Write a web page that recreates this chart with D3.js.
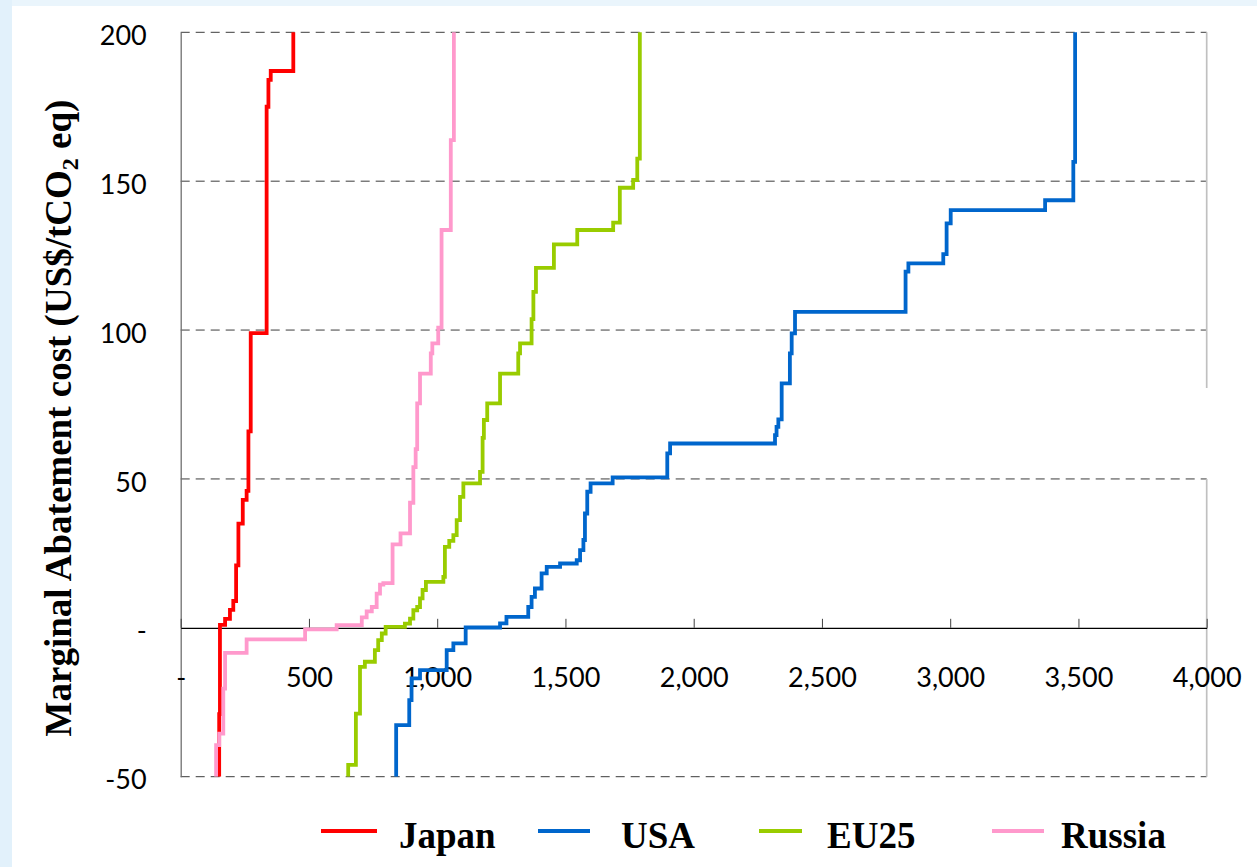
<!DOCTYPE html>
<html>
<head>
<meta charset="utf-8">
<script src="https://cdn.jsdelivr.net/npm/d3@7/dist/d3.min.js"></script>
<style>
  body { margin: 0; background: #fff; }
  .rotulo { font-family: Lato, "Liberation Sans", sans-serif; font-size: 27px; fill: #000; }
  .titulo { font-family: "Liberation Serif", "Times New Roman", serif; font-weight: bold; font-size: 37px; fill: #000; }
</style>
</head>
<body>
<svg id="grafico"></svg>
<script>
// series: [abatimento acumulado, custo marginal] -- cada ponto fecha um degrau
const paises = ['Japan', 'USA', 'EU25', 'Russia'];
const cores = ['#ff0000', '#0066cc', '#99cc00', '#ff99cc'];

const japan = [[150, -50], [153, -29], [173, 1], [192, 3], [205, 6], [216, 9], [225, 21], [242, 35],
  [257, 43], [264, 46], [273, 66], [335, 99], [342, 175], [351, 184], [439, 187], [439, 200]];

const usa = [[840, -50], [891, -32.7], [900, -24.3], [933, -17], [1037, -14.2], [1063, -7.5], [1111, -5.2],
  [1245, 0.1], [1270, 1.5], [1355, 3.7], [1368, 7], [1381, 10.4], [1407, 13.2], [1427, 18.3], [1479, 20.5],
  [1544, 21.6], [1557, 22.7], [1570, 26.1], [1576, 29.5], [1585, 38.4], [1598, 45.7], [1684, 48.5],
  [1897, 50.5], [1908, 58.6], [2317, 61.9], [2323, 64.7], [2330, 67.5], [2343, 70], [2375, 82.1],
  [2382, 92.2], [2395, 98.9], [2826, 106.1], [2837, 119.6], [2973, 122.4], [2986, 125.5], [3002, 135.8],
  [3370, 140.3], [3480, 143.6], [3487, 156.5], [3487, 200]];

const eu25 = [[653, -50], [683, -46], [699, -28.8], [718, -13.1], [757, -11.4], [770, -7.5], [784, -4.1],
  [799, -1.9], [874, 0.3], [894, 1.4], [907, 3.1], [922, 5.9], [933, 7], [943, 9.9], [956, 12.7],
  [1024, 15.4], [1030, 17.1], [1047, 27.2], [1063, 29.2], [1076, 31.1], [1089, 36.2], [1102, 44],
  [1167, 48.5], [1177, 52.4], [1182, 63.8], [1195, 69.8], [1245, 75.4], [1316, 85.4], [1323, 92.2],
  [1368, 95.5], [1375, 103.7], [1385, 112.8], [1455, 120.9], [1546, 128.8], [1686, 133.6], [1712, 136.1],
  [1764, 147.8], [1780, 150.4], [1790, 157.6], [1790, 200]];

const russia = [[138, -50], [150, -39.4], [166, -35.5], [173, -20.4], [257, -8.4], [485, -3.9], [608, -0.5],
  [706, 0.9], [725, 3.5], [745, 5.5], [764, 7], [777, 11.5], [790, 14.5], [826, 15], [857, 28],
  [894, 31.7], [907, 42], [916, 54], [922, 60], [933, 75.4], [975, 85.4], [981, 92.2], [1004, 95.5],
  [1017, 100.8], [1053, 133.6], [1065, 163.8], [1065, 200]];

const series = [japan, usa, eu25, russia];

// marcas dos eixos
const ticksX = [0, 500, 1000, 1500, 2000, 2500, 3000, 3500, 4000];
const ticksY = [-50, 0, 50, 100, 150, 200];
const grade = [-50, 50, 100, 150, 200];

const largura = 1257, altura = 867;
const svg = d3.select('#grafico').attr('width', largura).attr('height', altura);

// fundo do slide (faixas azuis claras nas bordas)
svg.append('rect').attr('width', largura).attr('height', altura).attr('fill', '#fff');
svg.append('rect').attr('width', largura).attr('height', 6).attr('fill', '#eaf5fc');
svg.append('rect').attr('width', 12).attr('height', altura).attr('fill', '#e2f1fb');

const x = d3.scaleLinear().domain([0, 4000]).range([180.7, 1206.7]);
const y = d3.scaleLinear().domain([-50, 200]).range([776.7, 32.3]);

// linhas de grade tracejadas
svg.append('g').selectAll('line').data(grade).enter().append('line')
    .attr('x1', x(0)).attr('x2', x(4000))
    .attr('y1', d => y(d)).attr('y2', d => y(d))
    .attr('stroke', '#3c3c3c').attr('stroke-width', 1).attr('stroke-dasharray', '9,6');

// borda direita (interrompida como no original)
svg.append('line').attr('x1', x(4000)).attr('x2', x(4000)).attr('y1', y(200)).attr('y2', 388)
    .attr('stroke', '#c0c0c0').attr('stroke-width', 1.7);
svg.append('line').attr('x1', x(4000)).attr('x2', x(4000)).attr('y1', 479).attr('y2', y(-50))
    .attr('stroke', '#c0c0c0').attr('stroke-width', 1.7);

// eixo Y
const eixoY = d3.axisLeft(y).tickValues(ticksY).tickSize(0).tickPadding(34)
    .tickFormat(d => d === 0 ? '-' : d);
const gY = svg.append('g').attr('transform', `translate(${x(0)},0)`).call(eixoY);
gY.select('.domain').attr('stroke', '#707070').attr('stroke-width', 1.3);
gY.selectAll('text').attr('class', 'rotulo').attr('dy', '0.45em').attr('font-family', null).attr('font-size', null);

// eixo X na linha do zero, marcas para cima
const eixoX = d3.axisBottom(x).tickValues(ticksX).tickSizeInner(-9).tickSizeOuter(0).tickPadding(40)
    .tickFormat(d => d === 0 ? '-' : d3.format(',')(d));
const gX = svg.append('g').attr('transform', `translate(0,${y(0)})`).call(eixoX);
gX.select('.domain').attr('stroke', '#000').attr('stroke-width', 1.3);
gX.selectAll('.tick line').attr('stroke', '#404040');
gX.selectAll('text').attr('class', 'rotulo').attr('font-family', null).attr('font-size', null);

// titulo do eixo Y
const titulo = svg.append('text').attr('class', 'titulo')
    .attr('transform', 'translate(71,418) rotate(-90)')
    .attr('text-anchor', 'middle');
titulo.append('tspan').text('Marginal Abatement cost (US$/tCO');
titulo.append('tspan').text('2').attr('font-size', '24px').attr('dy', 7);
titulo.append('tspan').text(' eq)').attr('dy', -7);

// curvas de custo marginal em degraus
const linha = d3.line().x(d => x(d[0])).y(d => y(d[1])).curve(d3.curveStepBefore);
svg.append('clipPath').attr('id', 'recorte').append('rect')
    .attr('x', x(0)).attr('y', y(200) - 2).attr('width', x(4000) - x(0)).attr('height', y(-50) - y(200) + 2);
svg.append('g').attr('clip-path', 'url(#recorte)')
    .selectAll('path').data(series).enter().append('path')
    .attr('d', linha)
    .attr('fill', 'none')
    .attr('stroke', (d, i) => cores[i])
    .attr('stroke-width', 3.8);

// legenda
const legX = [321, 538, 759, 992];
const legL = [56, 52, 43, 52];
const legT = [399, 621, 827, 1061];
const leg = svg.append('g');
paises.forEach((p, i) => {
  leg.append('line').attr('x1', legX[i]).attr('x2', legX[i] + legL[i]).attr('y1', 831).attr('y2', 831)
      .attr('stroke', cores[i]).attr('stroke-width', 4);
  leg.append('text').attr('class', 'titulo').attr('x', legT[i]).attr('y', 848).text(p);
});
</script>
</body>
</html>
